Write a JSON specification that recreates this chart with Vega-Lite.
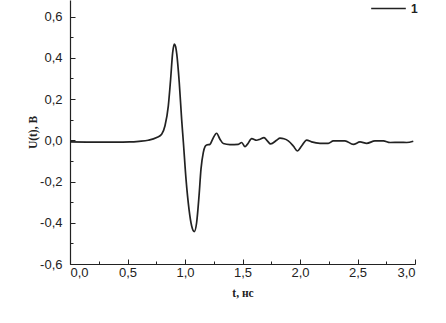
{
  "$schema": "https://vega.github.io/schema/vega-lite/v6.json",
  "width": 345,
  "height": 264,
  "autosize": "none",
  "padding": {"left": 70, "top": 0, "right": 31, "bottom": 59},
  "background": "white",
  "config": {
    "view": {"stroke": null},
    "axis": {
      "domainColor": "#222",
      "domainWidth": 1.2,
      "tickColor": "#222",
      "tickWidth": 1,
      "labelFont": "Liberation Sans",
      "labelFontSize": 13,
      "labelColor": "#222",
      "titleFont": "Liberation Serif",
      "titleFontWeight": "bold",
      "titleFontSize": 11.5,
      "titleColor": "#222",
      "grid": false
    }
  },
  "data": {
    "values": [
      {"t": 0, "u": -0.008, "s": "1"},
      {"t": 0.2, "u": -0.009, "s": "1"},
      {"t": 0.4, "u": -0.009, "s": "1"},
      {"t": 0.52, "u": -0.008, "s": "1"},
      {"t": 0.6, "u": -0.005, "s": "1"},
      {"t": 0.68, "u": 0.0, "s": "1"},
      {"t": 0.754, "u": 0.013, "s": "1"},
      {"t": 0.797, "u": 0.029, "s": "1"},
      {"t": 0.826, "u": 0.07, "s": "1"},
      {"t": 0.855, "u": 0.167, "s": "1"},
      {"t": 0.875, "u": 0.296, "s": "1"},
      {"t": 0.893, "u": 0.426, "s": "1"},
      {"t": 0.907, "u": 0.466, "s": "1"},
      {"t": 0.918, "u": 0.455, "s": "1"},
      {"t": 0.928, "u": 0.42, "s": "1"},
      {"t": 0.95, "u": 0.28, "s": "1"},
      {"t": 0.971, "u": 0.1, "s": "1"},
      {"t": 0.986, "u": -0.011, "s": "1"},
      {"t": 1.009, "u": -0.19, "s": "1"},
      {"t": 1.035, "u": -0.335, "s": "1"},
      {"t": 1.058, "u": -0.416, "s": "1"},
      {"t": 1.081, "u": -0.443, "s": "1"},
      {"t": 1.101, "u": -0.4, "s": "1"},
      {"t": 1.122, "u": -0.27, "s": "1"},
      {"t": 1.139, "u": -0.14, "s": "1"},
      {"t": 1.159, "u": -0.06, "s": "1"},
      {"t": 1.175, "u": -0.03, "s": "1"},
      {"t": 1.188, "u": -0.023, "s": "1"},
      {"t": 1.217, "u": -0.02, "s": "1"},
      {"t": 1.24, "u": 0.005, "s": "1"},
      {"t": 1.275, "u": 0.034, "s": "1"},
      {"t": 1.304, "u": 0.005, "s": "1"},
      {"t": 1.333, "u": -0.016, "s": "1"},
      {"t": 1.39, "u": -0.021, "s": "1"},
      {"t": 1.464, "u": -0.02, "s": "1"},
      {"t": 1.493, "u": -0.011, "s": "1"},
      {"t": 1.522, "u": -0.031, "s": "1"},
      {"t": 1.542, "u": -0.02, "s": "1"},
      {"t": 1.58, "u": 0.008, "s": "1"},
      {"t": 1.623, "u": 0.0, "s": "1"},
      {"t": 1.652, "u": 0.005, "s": "1"},
      {"t": 1.687, "u": 0.013, "s": "1"},
      {"t": 1.716, "u": -0.003, "s": "1"},
      {"t": 1.745, "u": -0.018, "s": "1"},
      {"t": 1.797, "u": 0.0, "s": "1"},
      {"t": 1.826, "u": 0.01, "s": "1"},
      {"t": 1.86, "u": 0.007, "s": "1"},
      {"t": 1.898, "u": -0.003, "s": "1"},
      {"t": 1.942, "u": -0.028, "s": "1"},
      {"t": 1.977, "u": -0.052, "s": "1"},
      {"t": 2.014, "u": -0.028, "s": "1"},
      {"t": 2.058, "u": 0.001, "s": "1"},
      {"t": 2.101, "u": -0.008, "s": "1"},
      {"t": 2.174, "u": -0.015, "s": "1"},
      {"t": 2.246, "u": -0.015, "s": "1"},
      {"t": 2.29, "u": -0.003, "s": "1"},
      {"t": 2.391, "u": -0.003, "s": "1"},
      {"t": 2.464, "u": -0.02, "s": "1"},
      {"t": 2.522, "u": -0.008, "s": "1"},
      {"t": 2.58, "u": -0.015, "s": "1"},
      {"t": 2.652, "u": -0.003, "s": "1"},
      {"t": 2.725, "u": -0.003, "s": "1"},
      {"t": 2.783, "u": -0.011, "s": "1"},
      {"t": 2.87, "u": -0.01, "s": "1"},
      {"t": 2.928, "u": -0.011, "s": "1"},
      {"t": 2.985, "u": -0.005, "s": "1"}
    ]
  },
  "mark": {"type": "line", "interpolate": "monotone", "strokeWidth": 1.7},
  "encoding": {
    "x": {
      "field": "t",
      "type": "quantitative",
      "scale": {"domain": [0, 3], "nice": false},
      "axis": {
        "title": "t, нс",
        "values": [0, 0.25, 0.5, 0.75, 1, 1.25, 1.5, 1.75, 2, 2.25, 2.5, 2.75, 3],
        "labelExpr": "round(datum.value*4)%2 != 0 ? '' : replace(format(datum.value, '.1f'), '.', ',')",
        "tickSize": {"condition": {"test": "round(datum.value*4)%2 != 0", "value": -3}, "value": -5},
        "labelPadding": 7,
        "titlePadding": 8
      }
    },
    "y": {
      "field": "u",
      "type": "quantitative",
      "scale": {"domain": [-0.6, 0.68], "nice": false},
      "axis": {
        "title": "U(t), B",
        "values": [-0.6, -0.5, -0.4, -0.3, -0.2, -0.1, 0, 0.1, 0.2, 0.3, 0.4, 0.5, 0.6],
        "labelExpr": "round(datum.value*10)%2 != 0 ? '' : (datum.value < -0.001 ? '-' : '') + replace(format(abs(datum.value), '.1f'), '.', ',')",
        "tickSize": {"condition": {"test": "round(datum.value*10)%2 != 0", "value": -3}, "value": -5},
        "labelPadding": 13,
        "titlePadding": 1
      }
    },
    "color": {
      "field": "s",
      "type": "nominal",
      "scale": {"range": ["#222"]},
      "legend": {
        "title": null,
        "orient": "none",
        "legendX": 300,
        "legendY": -10,
        "symbolType": "stroke",
        "symbolSize": 1200,
        "symbolStrokeWidth": 1.7,
        "labelFont": "Liberation Sans",
        "labelFontWeight": "bold",
        "labelFontSize": 12,
        "labelColor": "#222"
      }
    }
  }
}
